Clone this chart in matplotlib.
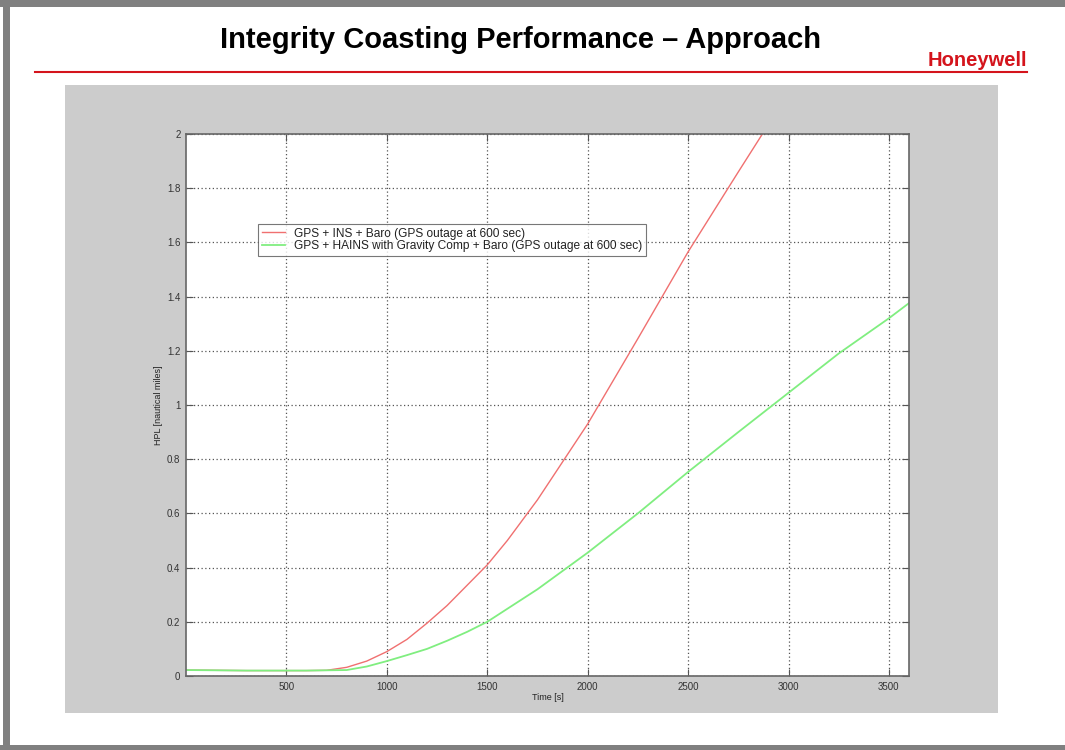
import matplotlib
matplotlib.use("Agg")
import matplotlib.pyplot as plt
from matplotlib.patches import Rectangle
from matplotlib.lines import Line2D

plt.rcParams['font.family'] = ['Liberation Sans', 'DejaVu Sans']

# values
time_ins = [0, 300, 600, 700, 800, 900, 1000, 1100, 1200, 1300, 1400, 1500, 1600, 1750,
            2000, 2250, 2500, 2750, 2870]
hpl_ins = [0.022, 0.02, 0.02, 0.021, 0.032, 0.055, 0.09, 0.135, 0.195, 0.26, 0.335, 0.41,
           0.5, 0.65, 0.93, 1.245, 1.565, 1.86, 2.0]

time_hains = [0, 300, 600, 800, 900, 1000, 1100, 1200, 1300, 1400, 1500, 1750, 2000, 2250,
              2500, 2750, 3000, 3250, 3500, 3600]
hpl_hains = [0.022, 0.02, 0.02, 0.022, 0.035, 0.055, 0.077, 0.1, 0.13, 0.163, 0.2, 0.32,
             0.455, 0.6, 0.753, 0.9, 1.045, 1.19, 1.32, 1.376]

xticks = [500, 1000, 1500, 2000, 2500, 3000, 3500]
yticks = [0, 0.2, 0.4, 0.6, 0.8, 1, 1.2, 1.4, 1.6, 1.8, 2]
ytick_labels = ['0', '0.2', '0.4', '0.6', '0.8', '1', '1.2', '1.4', '1.6', '1.8', '2']

W, H = 1065, 750
fig = plt.figure(figsize=(W / 100, H / 100), dpi=100)
fig.patch.set_facecolor('white')

def fx(px):
    return px / W

def fy(py):
    return 1 - py / H

# slide border (gray bars top, left, bottom)
for r in [(0, fy(7), 1, 7 / H), (fx(3), 0, 7 / W, 1), (0, 0, 1, 5 / H)]:
    fig.patches.append(Rectangle(r[:2], r[2], r[3], transform=fig.transFigure,
                                 facecolor='#808080', edgecolor='none', zorder=-2))

# title and logo
fig.text(fx(520), fy(40), 'Integrity Coasting Performance \u2013 Approach',
         fontsize=21, fontweight='bold', ha='center', va='center', color='black')
fig.text(fx(1027), fy(60), 'Honeywell',
         fontsize=14.5, fontweight='bold', ha='right', va='center', color='#d4141c')
fig.lines.append(Line2D([fx(35), fx(1027)], [fy(72), fy(72)], transform=fig.transFigure,
                        color='#d4141c', linewidth=1.5))

# gray figure panel behind the axes
fig.patches.append(Rectangle((fx(65), fy(713)), (998 - 65) / W, (713 - 85) / H,
                             transform=fig.transFigure, facecolor='#cccccc',
                             edgecolor='none', zorder=-1))

ax = fig.add_axes([fx(186), fy(676), (909 - 186) / W, (676 - 134) / H])
ax.set_facecolor('white')
ax.plot(time_ins, hpl_ins, color='#f07070', linewidth=1.0,
        label='GPS + INS + Baro (GPS outage at 600 sec)')
ax.plot(time_hains, hpl_hains, color='#80ee80', linewidth=1.3,
        label='GPS + HAINS with Gravity Comp + Baro (GPS outage at 600 sec)')

ax.set_xlim(0, 3600)
ax.set_ylim(0, 2)
ax.set_xticks(xticks)
ax.set_yticks(yticks)
ax.set_yticklabels(ytick_labels)
ax.grid(True, linestyle=(0, (1, 2)), color='#555555', linewidth=0.9)
ax.tick_params(direction='in', length=5, labelsize=7, labelcolor='#333333',
               color='#555555', top=True, right=True, pad=4)
for s in ax.spines.values():
    s.set_color('#666666')
    s.set_linewidth(1.2)

ax.set_xlabel('Time [s]', fontsize=6.5, color='#222222', labelpad=1)
ax.set_ylabel('HPL [nautical miles]', fontsize=6.5, color='#222222', labelpad=3)

leg = ax.legend(loc='upper left', bbox_to_anchor=((258 - 186) / (909 - 186), (676 - 224) / (676 - 134)),
                fontsize=8.6, frameon=True, fancybox=False, borderpad=0.3, labelspacing=0.05,
                handlelength=2.0, handletextpad=0.7, borderaxespad=0)
leg.get_frame().set_edgecolor('#555555')
leg.get_frame().set_linewidth(0.8)
for t in leg.get_texts():
    t.set_color('#222222')

fig.savefig('out.png', dpi=100)
